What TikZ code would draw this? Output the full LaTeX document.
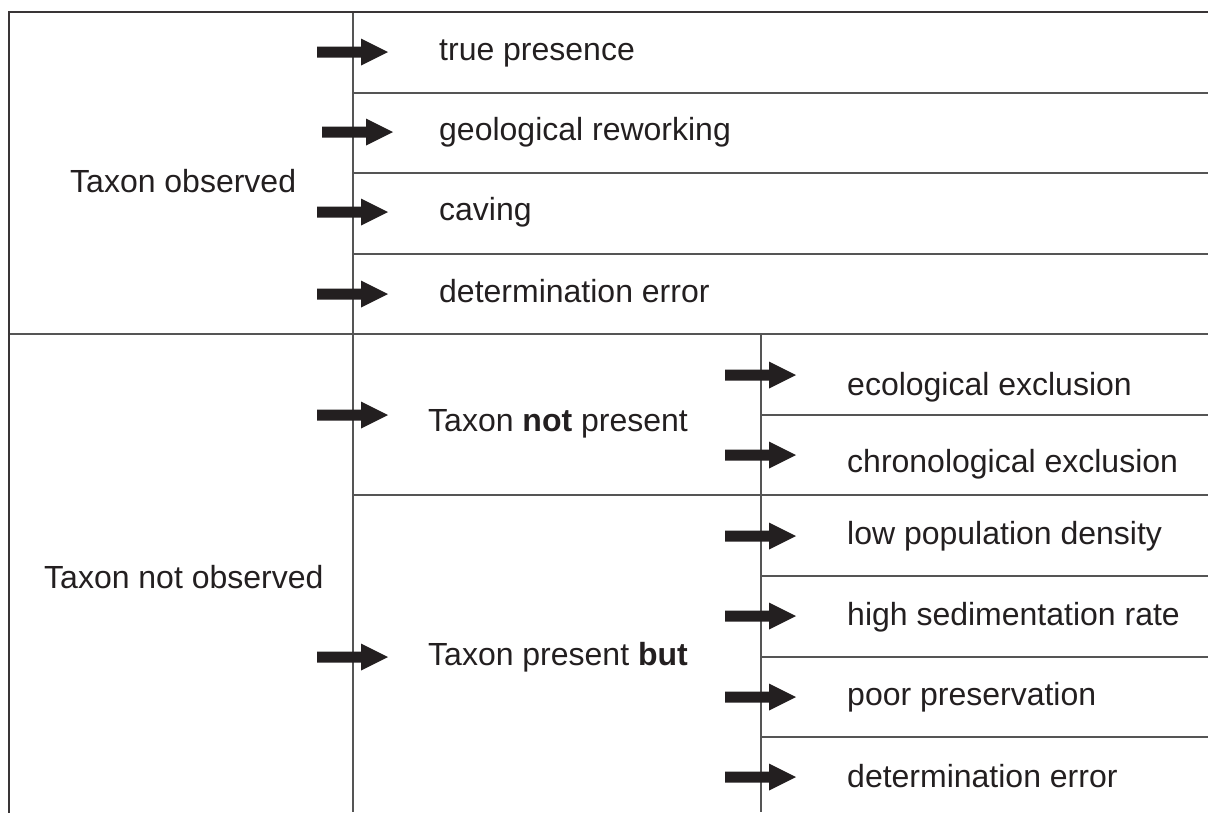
\documentclass[tikz,border=0pt]{standalone}
\usepackage{fontspec}
\setmainfont{Liberation Sans}
\definecolor{ink}{HTML}{231F20}
\definecolor{rule}{HTML}{555555}
\begin{document}
\begin{tikzpicture}[x=1pt,y=-1pt,
  lbl/.style={anchor=base west,inner sep=0pt,text=ink,font=\fontsize{32}{37}\selectfont},
  border/.style={draw=ink!90,line width=2pt},
  sep/.style={draw=rule,line width=1.4pt},
  bigarrow/.pic={\fill[ink] (0,-5.5)--(44,-5.5)--(44,-13.5)--(71,0)--(44,13.5)--(44,5.5)--(0,5.5)--cycle;}]
\useasboundingbox (0,0) rectangle (1208,812);
\begin{scope}
\clip (0,0) rectangle (1208,812);
% grid
\draw[sep] (353,12) -- (353,812);
\draw[sep] (353,93) -- (1208,93);
\draw[sep] (353,173) -- (1208,173);
\draw[sep] (353,254) -- (1208,254);
\draw[sep] (9,334) -- (1208,334);
\draw[sep] (761,334) -- (761,812);
\draw[sep] (353,495) -- (1208,495);
\draw[sep] (761,415) -- (1208,415);
\draw[sep] (761,576) -- (1208,576);
\draw[sep] (761,657) -- (1208,657);
\draw[sep] (761,737) -- (1208,737);
\draw[border] (9,813) -- (9,12) -- (1210,12);
\end{scope}
% arrows
\pic at (317,52) {bigarrow};
\pic at (322,132) {bigarrow};
\pic at (317,212) {bigarrow};
\pic at (317,294) {bigarrow};
\pic at (317,415) {bigarrow};
\pic at (317,657) {bigarrow};
\pic at (725,375) {bigarrow};
\pic at (725,455) {bigarrow};
\pic at (725,536) {bigarrow};
\pic at (725,616) {bigarrow};
\pic at (725,697) {bigarrow};
\pic at (725,777) {bigarrow};
% labels
\node[lbl] (obs) at (70,192) {Taxon observed};
\node[lbl] (nobs) at (44,588) {Taxon not observed};
\node[lbl] (tp) at (439,60) {true presence};
\node[lbl] (gr) at (439,140) {geological reworking};
\node[lbl] (cv) at (439,220) {caving};
\node[lbl] (de1) at (439,302) {determination error};
\node[lbl] (np) at (428,431) {Taxon \textbf{not} present};
\node[lbl] (pb) at (428,665) {Taxon present \textbf{but}};
\node[lbl] (ee) at (847,395) {ecological exclusion};
\node[lbl] (ce) at (847,472) {chronological exclusion};
\node[lbl] (lp) at (847,544) {low population density};
\node[lbl] (hs) at (847,625) {high sedimentation rate};
\node[lbl] (pp) at (847,705) {poor preservation};
\node[lbl] (de2) at (847,787) {determination error};
\end{tikzpicture}
\end{document}
